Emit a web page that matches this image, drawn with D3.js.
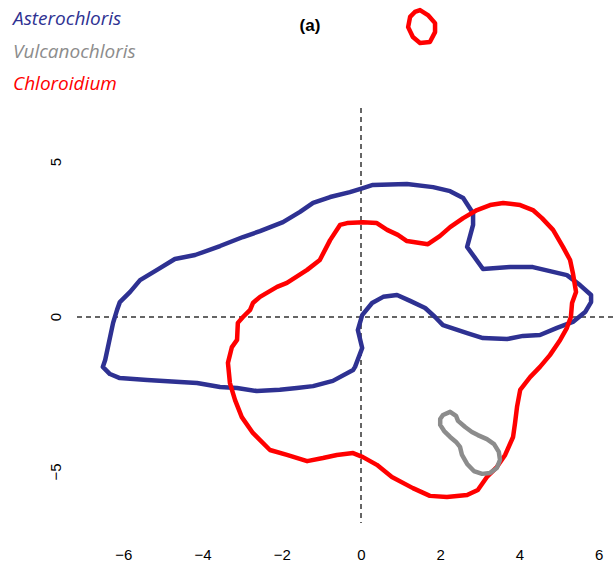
<!DOCTYPE html>
<html>
<head>
<meta charset="utf-8">
<script src="https://cdn.jsdelivr.net/npm/d3@7"></script>
<style>
  body { margin: 0; background: #fff; }
  svg { display: block; }
</style>
</head>
<body>
<svg id="chart" width="615" height="570"></svg>
<script>

var legendNames = ["Asterochloris", "Vulcanochloris", "Chloroidium"];
var legendColors = ["#2e3192", "#8c8c8c", "#ff0000"];

var xTicks = [-6, -4, -2, 0, 2, 4, 6];
var yTicks = [-5, 0, 5];

// contour outlines, [x, y] in plot units
var asterochloris = [
  [-6.52,-1.61],[-6.46,-1.39],[-6.26,-0.19],[-6.16,0.23],[-6.09,0.48],[-5.83,0.81],
  [-5.58,1.19],[-5.15,1.52],[-4.70,1.87],[-4.19,2.00],[-3.56,2.29],[-2.98,2.58],
  [-2.55,2.77],[-1.97,3.06],[-1.54,3.39],[-1.21,3.68],[-0.78,3.87],[-0.28,4.03],
  [0.05,4.16],[0.30,4.26],[1.16,4.29],[1.82,4.19],[2.25,4.06],[2.58,3.84],
  [2.83,3.35],[2.83,2.97],[2.68,2.26],[3.08,1.55],[3.76,1.61],[4.34,1.61],
  [4.77,1.48],[5.20,1.35],[5.53,1.03],[5.81,0.71],[5.81,0.48],[5.66,0.16],
  [5.35,-0.16],[4.95,-0.35],[4.52,-0.58],[4.09,-0.61],[3.69,-0.71],[3.08,-0.68],
  [2.68,-0.52],[2.07,-0.26],[1.87,0.00],[1.62,0.29],[1.24,0.52],[0.91,0.71],
  [0.56,0.65],[0.28,0.45],[0.03,0.06],[-0.08,-0.42],[0.03,-1.00],[-0.15,-1.61],
  [-0.20,-1.71],[-0.71,-2.06],[-1.21,-2.23],[-1.62,-2.29],[-2.05,-2.35],[-2.63,-2.39],
  [-3.13,-2.29],[-3.56,-2.26],[-4.14,-2.13],[-4.57,-2.10],[-5.40,-2.03],[-6.09,-1.97],
  [-6.34,-1.84]
];

var vulcanochloris = [
  [2.07,-3.16],[2.25,-3.06],[2.40,-3.19],[2.45,-3.35],[2.63,-3.55],[2.80,-3.71],
  [2.95,-3.81],[3.18,-3.94],[3.36,-4.10],[3.48,-4.35],[3.51,-4.61],[3.43,-4.87],
  [3.26,-5.03],[3.06,-5.06],[2.85,-4.97],[2.68,-4.74],[2.55,-4.45],[2.50,-4.19],
  [2.40,-4.03],[2.25,-3.87],[2.10,-3.68],[2.00,-3.48],[2.00,-3.29]
];

var chloroidium = [
  [-0.35,3.03],[0.05,3.06],[0.40,3.03],[0.66,2.81],[0.93,2.65],[1.16,2.45],
  [1.69,2.35],[1.99,2.61],[2.25,2.90],[2.58,3.19],[2.93,3.45],[3.26,3.61],
  [3.59,3.68],[4.02,3.61],[4.34,3.45],[4.57,3.19],[4.85,2.81],[5.10,2.26],
  [5.28,1.84],[5.35,1.42],[5.43,0.81],[5.33,0.45],[5.30,0.00],[5.20,-0.35],
  [5.03,-0.74],[4.77,-1.23],[4.52,-1.61],[4.27,-1.94],[4.02,-2.35],[3.94,-2.90],
  [3.89,-3.42],[3.84,-3.87],[3.64,-4.45],[3.43,-4.84],[3.18,-5.16],[2.95,-5.58],
  [2.68,-5.74],[2.17,-5.81],[1.74,-5.77],[1.31,-5.52],[0.78,-5.16],[0.40,-4.77],
  [0.05,-4.52],[-0.20,-4.39],[-0.61,-4.45],[-0.96,-4.55],[-1.36,-4.65],[-1.87,-4.45],
  [-2.30,-4.29],[-2.73,-3.74],[-3.01,-3.23],[-3.18,-2.68],[-3.31,-2.13],[-3.36,-1.48],
  [-3.26,-0.97],[-3.13,-0.74],[-3.11,-0.19],[-2.98,0.00],[-2.80,0.23],[-2.73,0.45],
  [-2.55,0.65],[-2.12,0.97],[-1.87,1.10],[-1.36,1.52],[-1.04,1.84],[-0.78,2.48],
  [-0.53,2.97]
];

var chloroidiumSmall = [
  [1.49,9.90],[1.69,9.74],[1.87,9.48],[1.87,9.19],[1.74,8.87],[1.49,8.84],
  [1.31,9.03],[1.19,9.35],[1.24,9.68],[1.36,9.84]
];

var contours = [
  {pts: asterochloris, color: legendColors[0]},
  {pts: chloroidium, color: legendColors[2]},
  {pts: chloroidiumSmall, color: legendColors[2]},
  {pts: vulcanochloris, color: legendColors[1]}
];

var svg = d3.select("#chart");

var x = d3.scaleLinear().domain([-6, 6]).range([123.4, 598.6]);
var y = d3.scaleLinear().domain([-5, 5]).range([472, 162]);

var plot = {left: 77, right: 615, top: 108, bottom: 523};

// reference lines through the origin
svg.append("line")
   .attr("x1", plot.left).attr("x2", plot.right)
   .attr("y1", y(0)).attr("y2", y(0))
   .attr("stroke", "#333").attr("stroke-width", 1.5)
   .attr("stroke-dasharray", "5,4");

svg.append("line")
   .attr("x1", x(0)).attr("x2", x(0))
   .attr("y1", plot.top).attr("y2", plot.bottom)
   .attr("stroke", "#333").attr("stroke-width", 1.5)
   .attr("stroke-dasharray", "5,4");

var line = d3.line()
    .x(d => x(d[0]))
    .y(d => y(d[1]))
    .curve(d3.curveLinearClosed);

svg.append("g")
   .selectAll("path")
   .data(contours)
   .join("path")
   .attr("d", d => line(d.pts))
   .attr("fill", "none")
   .attr("stroke", d => d.color)
   .attr("stroke-width", 4.5)
   .attr("stroke-linejoin", "round");

// axes: labels only, no lines
var fmt = d => d < 0 ? "\u2212" + Math.abs(d) : String(d);

var xAxis = svg.append("g")
   .attr("transform", `translate(0,${plot.bottom})`)
   .call(d3.axisBottom(x).tickValues(xTicks).tickFormat(fmt).tickSize(0).tickPadding(26));
xAxis.select(".domain").remove();
xAxis.selectAll("text")
     .attr("fill", "#000")
     .style("font-size", "15px")
     .style("font-family", "'Liberation Sans', Arial, sans-serif");

svg.append("g")
   .selectAll("text")
   .data(yTicks)
   .join("text")
   .attr("transform", d => `translate(61,${y(d)}) rotate(-90)`)
   .attr("text-anchor", "middle")
   .style("font-size", "15px")
   .style("font-family", "'Liberation Sans', Arial, sans-serif")
   .text(fmt);

svg.append("text")
   .attr("x", 310).attr("y", 31)
   .attr("text-anchor", "middle")
   .style("font-size", "17px")
   .style("font-weight", "bold")
   .style("font-family", "'Liberation Sans', Arial, sans-serif")
   .text("(a)");

svg.append("g")
   .selectAll("text")
   .data(legendNames)
   .join("text")
   .attr("x", 13)
   .attr("y", (d, i) => 25 + i * 32.5)
   .attr("fill", (d, i) => legendColors[i])
   .style("font-size", "19px")
   .style("font-style", "italic")
   .style("font-family", "'Open Sans', sans-serif")
   .text(d => d);

</script>
</body>
</html>
